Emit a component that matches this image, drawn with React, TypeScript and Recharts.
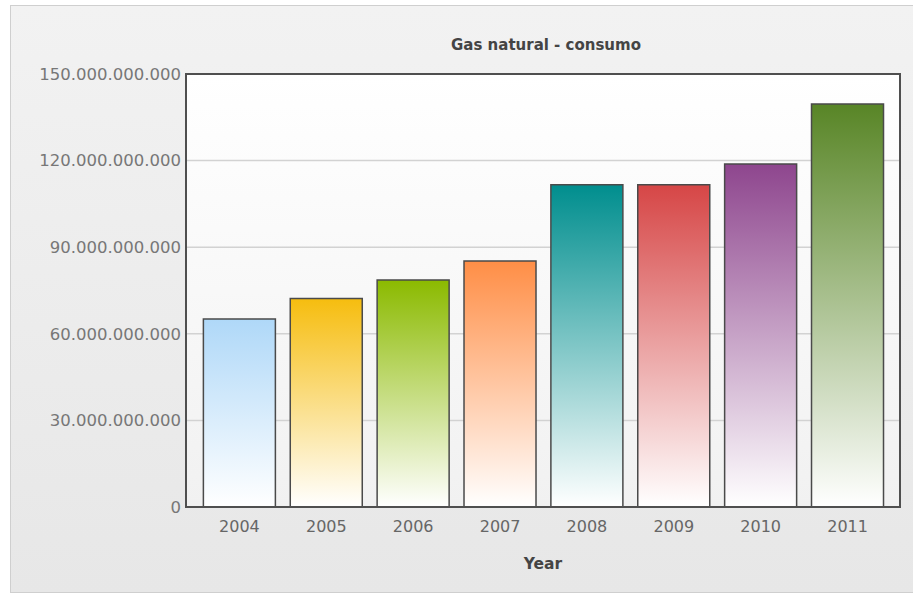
import React from 'react';
import { BarChart, Bar, XAxis, YAxis, CartesianGrid, Cell } from 'recharts';

const years = ['2004', '2005', '2006', '2007', '2008', '2009', '2010', '2011'];
const consumo = [65.1e9, 72.2e9, 78.6e9, 85.2e9, 111.6e9, 111.6e9, 118.8e9, 139.6e9];
const yTicks = [0, 30e9, 60e9, 90e9, 120e9, 150e9];
const barColors = ['#AFD8F8', '#F6BD0F', '#8BBA00', '#FF8E46', '#008E8E', '#D64646', '#8E468E', '#588526'];
const title = 'Gas natural - consumo';
const xTitle = 'Year';

const data = years.map((y, i) => ({ year: y, value: consumo[i] }));

const fmt = (n: number) => Math.round(n).toString().replace(/\B(?=(\d{3})+(?!\d))/g, '.');

const FONT = '"DejaVu Sans", Verdana, sans-serif';

export default function App() {
  return (
    <div style={{ position: 'absolute', left: 0, top: 0, width: 913, height: 598, overflow: 'hidden', background: '#ffffff' }}>
      <div
        style={{
          position: 'absolute',
          left: 10,
          top: 5,
          width: 913,
          height: 588,
          border: '1px solid #cfcfcf',
          background: 'linear-gradient(#f2f2f2, #e7e7e7)',
          boxSizing: 'border-box',
        }}
      />
      <div style={{ position: 'absolute', left: 0, top: 0 }}>
        <BarChart
          width={913}
          height={598}
          data={data}
          margin={{ top: 74, right: 13, left: 0, bottom: 0 }}
          barCategoryGap="8.5%"
        >
          <defs>
            <linearGradient id="plotBg" x1="0" y1="0" x2="0" y2="1">
              <stop offset="0%" stopColor="#ffffff" />
              <stop offset="100%" stopColor="#f1f1f1" />
            </linearGradient>
            {barColors.map((c, i) => (
              <linearGradient key={i} id={`barGrad${i}`} x1="0" y1="0" x2="0" y2="1">
                <stop offset="0%" stopColor={c} />
                <stop offset="100%" stopColor="#ffffff" />
              </linearGradient>
            ))}
          </defs>
          <CartesianGrid
            vertical={false}
            stroke="#d2d2d2"
            strokeWidth={1.5}
            fill="url(#plotBg)"
            fillOpacity={1}
          />
          <XAxis
            dataKey="year"
            height={91}
            padding={{ left: 10, right: 9 }}
            tickLine={false}
            tickSize={6}
            tickMargin={8}
            axisLine={{ stroke: '#4f4f4f', strokeWidth: 2 }}
            tick={{ fill: '#666666', fontSize: 16, fontFamily: FONT }}
            interval={0}
          />
          <YAxis
            width={186}
            domain={[0, 150e9]}
            ticks={yTicks}
            interval={0}
            tickFormatter={fmt}
            tickLine={false}
            tickSize={0}
            tickMargin={5}
            axisLine={{ stroke: '#4f4f4f', strokeWidth: 2 }}
            tick={{ fill: '#777777', fontSize: 16.5, fontFamily: FONT }}
          />
          <Bar dataKey="value" stroke="#4a4a4a" strokeWidth={1.5} isAnimationActive={false}>
            {data.map((d, i) => (
              <Cell key={d.year} fill={`url(#barGrad${i})`} />
            ))}
          </Bar>
        </BarChart>
      </div>
      <div
        style={{
          position: 'absolute',
          left: 185,
          top: 73,
          width: 716,
          height: 435,
          border: '2px solid #4f4f4f',
          boxSizing: 'border-box',
          pointerEvents: 'none',
        }}
      />
      <svg width={913} height={598} style={{ position: 'absolute', left: 0, top: 0, pointerEvents: 'none' }}>
        <text x={546} y={50} textAnchor="middle" fontFamily={FONT} fontWeight="bold" fontSize={15} fill="#444444">
          {title}
        </text>
        <text x={543} y={569} textAnchor="middle" fontFamily={FONT} fontWeight="bold" fontSize={15.5} fill="#444444">
          {xTitle}
        </text>
      </svg>
    </div>
  );
}
